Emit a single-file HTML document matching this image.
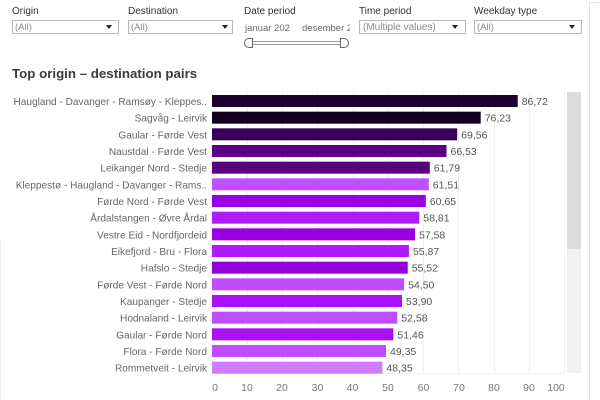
<!DOCTYPE html>
<html><head><meta charset="utf-8"><style>
html,body{margin:0;padding:0;background:#fff;}
svg{display:block;}
text{font-family:"Liberation Sans",sans-serif;}
</style></head><body>
<svg width="600" height="400" viewBox="0 0 600 400" xmlns="http://www.w3.org/2000/svg">
<rect width="600" height="400" fill="#fff"/>
<!-- right panel border -->
<line x1="589.5" y1="2" x2="589.5" y2="400" stroke="#e2e2e2"/>
<line x1="589" y1="2.5" x2="600" y2="2.5" stroke="#e2e2e2"/>
<line x1="0.5" y1="240" x2="0.5" y2="400" stroke="#ececec"/>

<!-- filters -->
<g font-size="10" fill="#333">
<text x="12" y="14">Origin</text>
<text x="128" y="14">Destination</text>
<text x="244" y="14">Date period</text>
<text x="359" y="14">Time period</text>
<text x="474" y="14">Weekday type</text>
</g>
<g fill="#fff" stroke="#b8b8b8">
<rect x="12.5" y="20.5" width="106" height="13"/>
<rect x="128.5" y="20.5" width="104" height="13"/>
<rect x="359.5" y="20.5" width="106" height="13"/>
<rect x="474.5" y="20.5" width="107" height="13"/>
</g>
<g font-size="9.5" fill="#8a8a8a">
<text x="15" y="30">(All)</text>
<text x="131" y="30">(All)</text>
<text x="363" y="30" font-size="10">(Multiple values)</text>
<text x="477" y="30">(All)</text>
</g>
<g fill="#222">
<polygon points="106,25 112,25 109,29"/>
<polygon points="222,25 228,25 225,29"/>
<polygon points="452,25 458,25 455,29"/>
<polygon points="569,25 575,25 572,29"/>
</g>
<defs>
<clipPath id="c1"><rect x="240" y="18" width="50" height="16"/></clipPath>
<clipPath id="c2"><rect x="300" y="18" width="50" height="16"/></clipPath>
</defs>
<text x="245" y="31" font-size="9.5" fill="#666" clip-path="url(#c1)">januar 2021</text>
<text x="302" y="31" font-size="9.5" fill="#666" clip-path="url(#c2)">desember 2021</text>
<!-- slider -->
<rect x="250" y="41.5" width="92" height="3" fill="#fff" stroke="#9a9a9a" stroke-width="1"/>
<path d="M252.5,38.5 L249,38.5 A4.5,4.5 0 0 0 249,47.5 L252.5,47.5 Z" fill="#fff" stroke="#666"/>
<path d="M340.5,38.5 L344,38.5 A4.5,4.5 0 0 1 344,47.5 L340.5,47.5 Z" fill="#fff" stroke="#666"/>

<!-- title -->
<text x="12" y="78" font-size="13.3" font-weight="bold" fill="#3a3a3a">Top origin – destination pairs</text>

<!-- gridlines -->
<g stroke="#f0f0f0" stroke-width="1">
<line x1="247.5" y1="92" x2="247.5" y2="373"/>
<line x1="282.5" y1="92" x2="282.5" y2="373"/>
<line x1="317.5" y1="92" x2="317.5" y2="373"/>
<line x1="353.5" y1="92" x2="353.5" y2="373"/>
<line x1="388.5" y1="92" x2="388.5" y2="373"/>
<line x1="423.5" y1="92" x2="423.5" y2="373"/>
<line x1="458.5" y1="92" x2="458.5" y2="373"/>
<line x1="494.5" y1="92" x2="494.5" y2="373"/>
<line x1="529.5" y1="92" x2="529.5" y2="373"/>
<line x1="564.5" y1="92" x2="564.5" y2="373"/>
<line x1="212" y1="373.5" x2="565" y2="373.5"/>
</g>

<!-- scrollbar -->
<rect x="567" y="92" width="14" height="281" fill="#f1f1f1"/>
<rect x="567" y="92" width="14" height="157" fill="#dcdcdc"/>

<!-- bars -->
<g stroke-width="1">
<rect x="212" y="95" width="305.7" height="12" fill="#1e0030"/>
<rect x="212" y="111.67" width="268.7" height="12" fill="#14001f"/>
<rect x="212" y="128.33" width="245.2" height="12" fill="#3a0058"/>
<rect x="212" y="145" width="234.5" height="12" fill="#5a0082"/>
<rect x="212" y="161.67" width="217.8" height="12" fill="#58007e"/>
<rect x="212" y="178.33" width="216.8" height="12" fill="#c050ff"/>
<rect x="212" y="195" width="213.8" height="12" fill="#9a00e6"/>
<rect x="212" y="211.67" width="207.3" height="12" fill="#b01aff"/>
<rect x="212" y="228.33" width="203.0" height="12" fill="#9a00e0"/>
<rect x="212" y="245" width="196.9" height="12" fill="#b01aff"/>
<rect x="212" y="261.67" width="195.7" height="12" fill="#9400d8"/>
<rect x="212" y="278.33" width="192.1" height="12" fill="#c04cff"/>
<rect x="212" y="295" width="190.0" height="12" fill="#aa10f8"/>
<rect x="212" y="311.67" width="185.3" height="12" fill="#c04cff"/>
<rect x="212" y="328.33" width="181.4" height="12" fill="#aa10f8"/>
<rect x="212" y="345" width="174.0" height="12" fill="#c04cff"/>
<rect x="212" y="361.67" width="170.4" height="12" fill="#d07cff"/>
</g>

<!-- row labels -->
<g font-size="10.1" fill="#666" text-anchor="end">
<text x="207" y="105">Haugland - Davanger - Ramsøy - Kleppes..</text>
<text x="207" y="121.67">Sagvåg - Leirvik</text>
<text x="207" y="138.33">Gaular - Førde Vest</text>
<text x="207" y="155">Naustdal - Førde Vest</text>
<text x="207" y="171.67">Leikanger Nord - Stedje</text>
<text x="207" y="188.33">Kleppestø - Haugland - Davanger - Rams..</text>
<text x="207" y="205">Førde Nord - Førde Vest</text>
<text x="207" y="221.67">Årdalstangen - Øvre Årdal</text>
<text x="207" y="238.33">Vestre Eid - Nordfjordeid</text>
<text x="207" y="255">Eikefjord - Bru - Flora</text>
<text x="207" y="271.67">Hafslo - Stedje</text>
<text x="207" y="288.33">Førde Vest - Førde Nord</text>
<text x="207" y="305">Kaupanger - Stedje</text>
<text x="207" y="321.67">Hodnaland - Leirvik</text>
<text x="207" y="338.33">Gaular - Førde Nord</text>
<text x="207" y="355">Flora - Førde Nord</text>
<text x="207" y="371.67">Rommetveit - Leirvik</text>
</g>

<!-- value labels -->
<g font-size="10.5" fill="#555">
<text x="521.7" y="105">86,72</text>
<text x="484.7" y="121.67">76,23</text>
<text x="461.2" y="138.33">69,56</text>
<text x="450.5" y="155">66,53</text>
<text x="433.8" y="171.67">61,79</text>
<text x="432.8" y="188.33">61,51</text>
<text x="429.8" y="205">60,65</text>
<text x="423.3" y="221.67">58,81</text>
<text x="419.0" y="238.33">57,58</text>
<text x="412.9" y="255">55,87</text>
<text x="411.7" y="271.67">55,52</text>
<text x="408.1" y="288.33">54,50</text>
<text x="406.0" y="305">53,90</text>
<text x="401.3" y="321.67">52,58</text>
<text x="397.4" y="338.33">51,46</text>
<text x="390.0" y="355">49,35</text>
<text x="386.4" y="371.67">48,35</text>
</g>

<!-- axis tick labels -->
<g font-size="10.5" fill="#777" text-anchor="middle">
<text x="215" y="391">0</text>
<text x="247" y="391">10</text>
<text x="282" y="391">20</text>
<text x="317.5" y="391">30</text>
<text x="352.5" y="391">40</text>
<text x="388" y="391">50</text>
<text x="423.5" y="391">60</text>
<text x="459" y="391">70</text>
<text x="494" y="391">80</text>
<text x="529" y="391">90</text>
<text x="556" y="391">100</text>
</g>
</svg>
</body></html>
